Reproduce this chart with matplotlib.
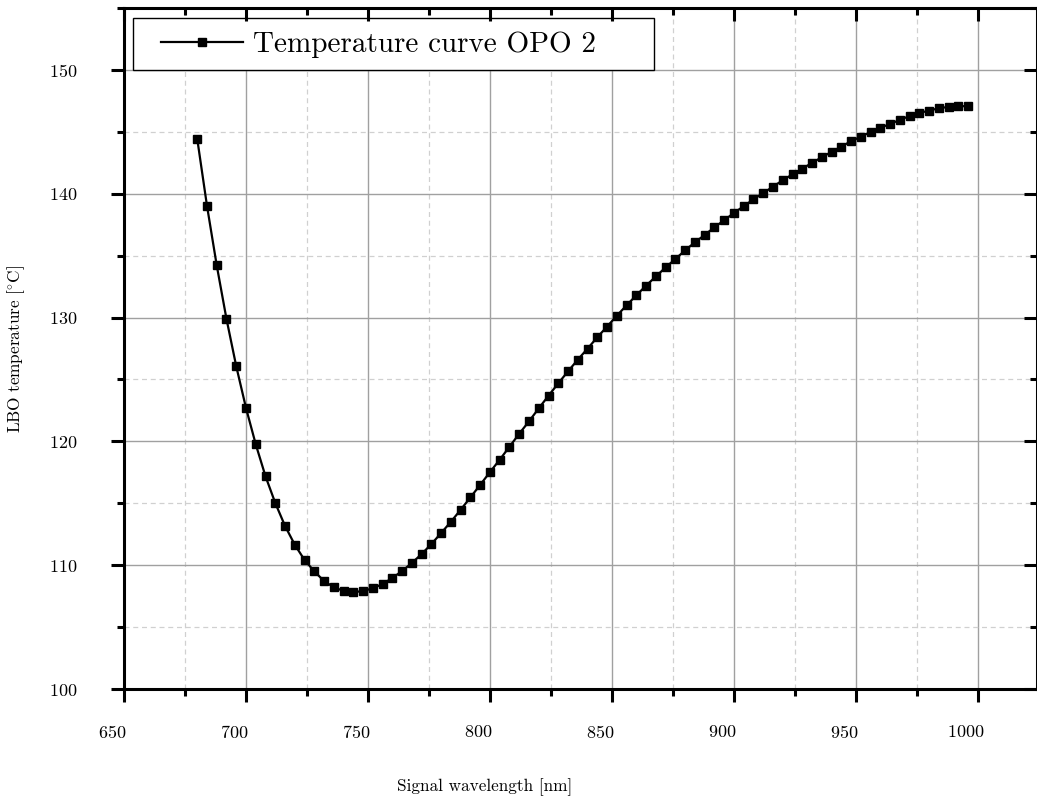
import matplotlib
matplotlib.use('Agg')
import matplotlib.pyplot as plt
from matplotlib.ticker import MultipleLocator
from matplotlib.patches import Rectangle
from matplotlib.transforms import ScaledTranslation

plt.rcParams['font.family'] = 'serif'
plt.rcParams['font.serif'] = ['cmr10']
plt.rcParams['mathtext.fontset'] = 'cm'
plt.rcParams['axes.formatter.use_mathtext'] = True

wavelength = [680, 684, 688, 692, 696, 700, 704, 708, 712, 716,
              720, 724, 728, 732, 736, 740, 744, 748, 752, 756,
              760, 764, 768, 772, 776, 780, 784, 788, 792, 796,
              800, 804, 808, 812, 816, 820, 824, 828, 832, 836,
              840, 844, 848, 852, 856, 860, 864, 868, 872, 876,
              880, 884, 888, 892, 896, 900, 904, 908, 912, 916,
              920, 924, 928, 932, 936, 940, 944, 948, 952, 956,
              960, 964, 968, 972, 976, 980, 984, 988, 992, 996]
temperature = [144.45, 139.04, 134.22, 129.89, 126.07, 122.70, 119.76, 117.18, 115.02, 113.17,
               111.65, 110.42, 109.50, 108.72, 108.21, 107.92, 107.81, 107.92, 108.13, 108.48,
               108.97, 109.53, 110.18, 110.90, 111.71, 112.60, 113.51, 114.48, 115.48, 116.49,
               117.52, 118.52, 119.57, 120.62, 121.62, 122.67, 123.69, 124.69, 125.66, 126.60,
               127.49, 128.41, 129.27, 130.15, 130.99, 131.80, 132.58, 133.32, 134.05, 134.73,
               135.43, 136.08, 136.67, 137.29, 137.86, 138.45, 138.99, 139.55, 140.06, 140.57,
               141.09, 141.57, 142.03, 142.49, 142.95, 143.38, 143.81, 144.24, 144.61, 144.99,
               145.32, 145.64, 145.96, 146.28, 146.53, 146.71, 146.91, 147.01, 147.07, 147.07]

XMIN, XMAX = 650, 1024.2
YMIN, YMAX = 100, 155

fig = plt.figure(figsize=(10.37, 7.98), dpi=100)
rect = [124/1037, 109/798, 913/1037, 681/798]
ax = fig.add_axes(rect)

ax.plot(wavelength, temperature, color='black', lw=1.6, marker='s', ms=5.3,
        label='Temperature curve OPO 2', zorder=3)

ax.set_xlim(XMIN, XMAX)
ax.set_ylim(YMIN, YMAX)

ax.xaxis.set_major_locator(MultipleLocator(50))
ax.xaxis.set_minor_locator(MultipleLocator(25))
ax.yaxis.set_major_locator(MultipleLocator(10))
ax.yaxis.set_minor_locator(MultipleLocator(5))

ax.grid(which='major', color='#a0a0a0', lw=1.0, ls='-')
ax.grid(which='minor', color='#d0d0d0', lw=0.9, ls=(0, (4, 3)))
ax.set_axisbelow(True)

for s in ax.spines.values():
    s.set_linewidth(2.2)

ax.tick_params(which='both', direction='out', width=2.2, top=False, right=False, labelsize=13)
ax.tick_params(which='major', length=9.5)
ax.tick_params(which='minor', length=5)
ax.tick_params(axis='x', pad=16)
ax.tick_params(axis='y', pad=24)

# top and right ticks point inwards: overlay an empty axes for them
ax2 = fig.add_axes(rect, frameon=False)
ax2.set_xlim(XMIN, XMAX)
ax2.set_ylim(YMIN, YMAX)
ax2.xaxis.set_major_locator(MultipleLocator(50))
ax2.xaxis.set_minor_locator(MultipleLocator(25))
ax2.yaxis.set_major_locator(MultipleLocator(10))
ax2.yaxis.set_minor_locator(MultipleLocator(5))
ax2.tick_params(which='both', direction='in', width=2.2,
                bottom=False, left=False, top=True, right=True,
                labelbottom=False, labelleft=False)
ax2.tick_params(which='major', length=9.5)
ax2.tick_params(which='minor', length=5)
ax2.patch.set_visible(False)

# x tick labels sit a little left of their ticks
shift = ScaledTranslation(-12/100, 0, fig.dpi_scale_trans)
for lab in ax.get_xticklabels():
    lab.set_transform(lab.get_transform() + shift)

ax.set_xlabel('Signal wavelength [nm]', fontsize=12.4)
ax.xaxis.set_label_coords(0.395, -0.131)
ax.set_ylabel(r'$\mathrm{LBO\ temperature\ [^{\circ}C]}$', fontsize=12.4)
ax.yaxis.set_label_coords(-0.106, 0.5)

box = Rectangle((9/913, 619/681), 521/913, 52/681, transform=ax.transAxes,
                facecolor='white', edgecolor='black', lw=1.0, zorder=5)
ax.add_patch(box)
leg = ax.legend(loc='center left', bbox_to_anchor=(37/913, 644/681), frameon=False,
                borderpad=0, borderaxespad=0, handlelength=2.8, handletextpad=0.35,
                fontsize=21)
leg.set_zorder(6)

plt.savefig('out.png', dpi=100)
